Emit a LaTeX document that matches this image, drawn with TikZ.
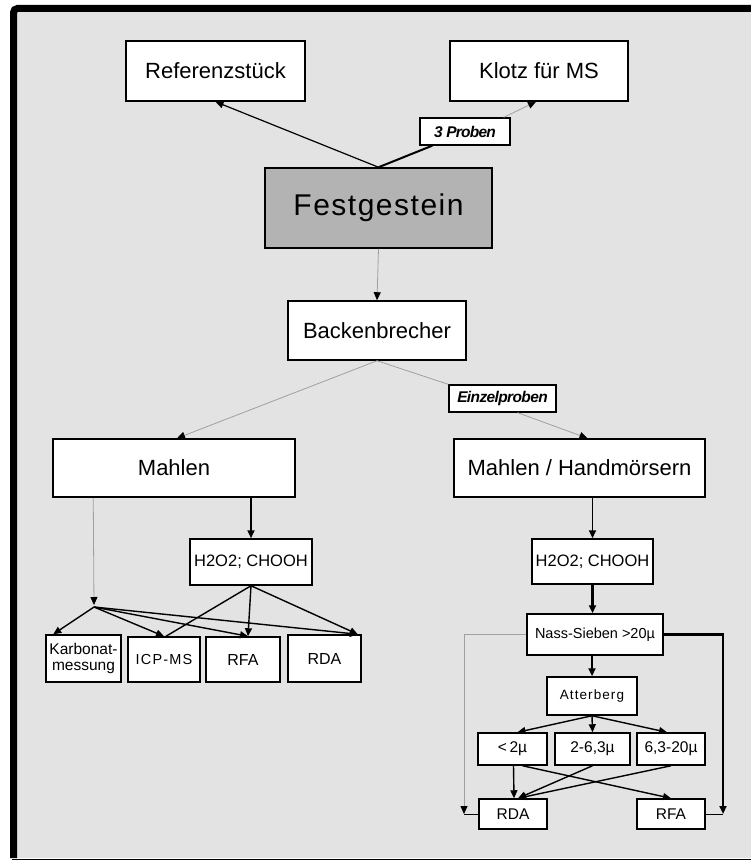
\documentclass[tikz,border=0pt]{standalone}
\usepackage{fontspec}
\setmainfont{Liberation Sans}
\usetikzlibrary{arrows.meta,calc}
\definecolor{bggray}{HTML}{E3E3E3}
\definecolor{fgray}{HTML}{B3B3B3}
\definecolor{lgray}{HTML}{A0A0A0}
\newcommand{\fs}[1]{\fontsize{#1}{#1}\selectfont}
\tikzset{
  box/.style={draw=black, line width=1.5pt, fill=white, inner sep=0pt, align=center},
  tagbox/.style={draw=black, line width=1.3pt, fill=white, inner sep=0pt, font=\bfseries\itshape},
  tip/.style={-{Triangle[length=8pt,width=7pt,color=black]}},
  conn/.style={draw=black, line width=1.4pt},
  thinconn/.style={draw=lgray, line width=0.8pt},
  thickconn/.style={draw=black, line width=2.4pt},
}
\begin{document}
\begin{tikzpicture}[x=1pt,y=-1pt]
\useasboundingbox (0,0) rectangle (751,861);
% frame
\fill[bggray] (17,12) rectangle (751,858);
\draw[black, line width=7pt, rounded corners=4pt] (13.5,858) -- (13.5,8.5) -- (751,8.5);
\draw[black, line width=1.6pt] (12,859.5) -- (751,859.5);

% nodes
\node[box, minimum width=179, minimum height=60, font=\fs{22}] (ref) at (215.5,71) {Referenzstück};
\node[box, minimum width=178, minimum height=60, font=\fs{22}] (klotz) at (539,71) {Klotz für MS};
\node[tagbox, minimum width=90, minimum height=27, font=\fs{15.5}\bfseries\itshape\addfontfeature{LetterSpace=-5}] (proben) at (465,131.5) {3 Proben};
\node[box, fill=fgray, minimum width=227, minimum height=80, font=\fs{30}\addfontfeature{LetterSpace=5}] (fest) at (378.5,208) {Festgestein};
\node[box, minimum width=178, minimum height=59, font=\fs{22}] (back) at (377,330.5) {Backenbrecher};
\node[tagbox, minimum width=107, minimum height=27, font=\fs{15.5}\bfseries\itshape\addfontfeature{LetterSpace=-4}] (einzel) at (502.5,398.5) {Einzelproben};
\node[box, minimum width=242, minimum height=58, font=\fs{22}] (mahlL) at (174,468) {Mahlen};
\node[box, minimum width=251, minimum height=58, font=\fs{22}] (mahlR) at (579.5,468) {Mahlen / Handmörsern};

\node[box, minimum width=122, minimum height=46, font=\fs{16.5}] (hL) at (251,562) {H2O2; CHOOH};
\node[box, minimum width=75, minimum height=47, font=\fs{15.5}, align=center] (karb) at (83.5,658.5) {\fs{15.5}Karbonat-\\[1pt]messung};
\node[box, minimum width=72, minimum height=45, font=\fs{14.5}\addfontfeature{LetterSpace=8}] (icp) at (164,659.5) {ICP-MS};
\node[box, minimum width=74, minimum height=45, font=\fs{16}] (rfaL) at (243,659.5) {RFA};
\node[box, minimum width=73, minimum height=47, font=\fs{16}] (rdaL) at (324.5,658.5) {RDA};
\coordinate (junc) at (94,607);

\node[box, minimum width=121, minimum height=45, font=\fs{16.5}] (hR) at (592.5,561.5) {H2O2; CHOOH};
\node[box, minimum width=136, minimum height=41, font=\fs{14.5}] (nass) at (595,634.5) {Nass-Sieben >20µ};
\node[box, minimum width=90, minimum height=38, font=\fs{13.5}\addfontfeature{LetterSpace=8}] (att) at (592,696) {Atterberg};
\node[box, minimum width=69, minimum height=32, font=\fs{15.5}] (f1) at (512.5,749) {<\,2µ};
\node[box, minimum width=75, minimum height=32, font=\fs{15.5}] (f2) at (592.5,749) {2-6,3µ};
\node[box, minimum width=68, minimum height=32, font=\fs{15.5}] (f3) at (671,749) {6,3-20µ};
\node[box, minimum width=68, minimum height=30, font=\fs{15.5}] (rdaR) at (513,814) {RDA};
\node[box, minimum width=68, minimum height=30, font=\fs{15.5}] (rfaR) at (671,814) {RFA};
\coordinate (cL) at (464,814);
\coordinate (cR) at (723,814);

% connectors top
\draw[conn, line width=1.2pt, tip] (fest.north) -- (ref.south);
\draw[thickconn, line width=2pt] (fest.north) -- ($(proben.south west)+(13,0)$);
\draw[thinconn, tip] ($(proben.north east)+(-7,0)$) -- ($(klotz.south)+(-3,0)$);
\draw[thinconn, tip] (fest.south) -- (back.north);
\draw[thinconn, tip] (back.south) -- ($(mahlL.north)+(3,0)$);
\draw[thinconn] (back.south) -- (einzel.north west);
\draw[thinconn, tip] ($(einzel.south)+(15,0)$) -- ($(mahlR.north)+(8,0)$);

% left branch
\draw[thinconn, tip, shorten >=2pt] ($(mahlL.south west)+(41,0)$) -- (junc);
\draw[thickconn, line width=2pt, tip] (hL.north |- mahlL.south) -- (hL.north);
\draw[conn, tip] (junc) -- ($(karb.north west)+(8,0)$);
\draw[conn, tip] (junc) -- (icp.north);
\draw[conn, tip] (junc) -- ($(rfaL.north)+(5,0)$);
\draw[conn, tip] (junc) -- ($(rdaL.north east)+(-4,0)$);
\draw[conn] (hL.south) -- ($(icp.north)+(2,0)$);
\draw[conn, tip] (hL.south) -- ($(rfaL.north)+(5,0)$);
\draw[conn, tip] (hL.south) -- ($(rdaL.north east)+(-4,0)$);

% right branch
\draw[thickconn, line width=1.8pt, tip] (hR.north |- mahlR.south) -- (hR.north);
\draw[thickconn, tip] (hR.south) -- (hR.south |- nass.north);
\draw[thickconn, tip] (att.north |- nass.south) -- (att.north);
\draw[thinconn, tip] (nass.west) -| (cL);
\draw[conn, line width=1pt] (rdaR.west) -- (cL);
\draw[thickconn, line width=2.2pt, tip] (nass.east) -| (cR);
\draw[conn, line width=1pt] (rfaR.east) -- (cR);
\draw[conn, tip] (att.south) -- ($(f1.north)+(5,0)$);
\draw[conn, tip] (att.south) -- (f2.north);
\draw[conn, tip] (att.south) -- ($(f3.north)+(-4,0)$);
\draw[conn, tip] ($(f1.south)+(1,0)$) -- ($(rdaR.north)+(1,0)$);
\draw[conn, tip] ($(f1.south)+(10,0)$) -- (rfaR.north);
\draw[conn, tip] (f2.south) -- ($(rdaR.north)+(5,0)$);
\draw[conn, tip] (f3.south) -- ($(rdaR.north)+(5,0)$);
\end{tikzpicture}
\end{document}
